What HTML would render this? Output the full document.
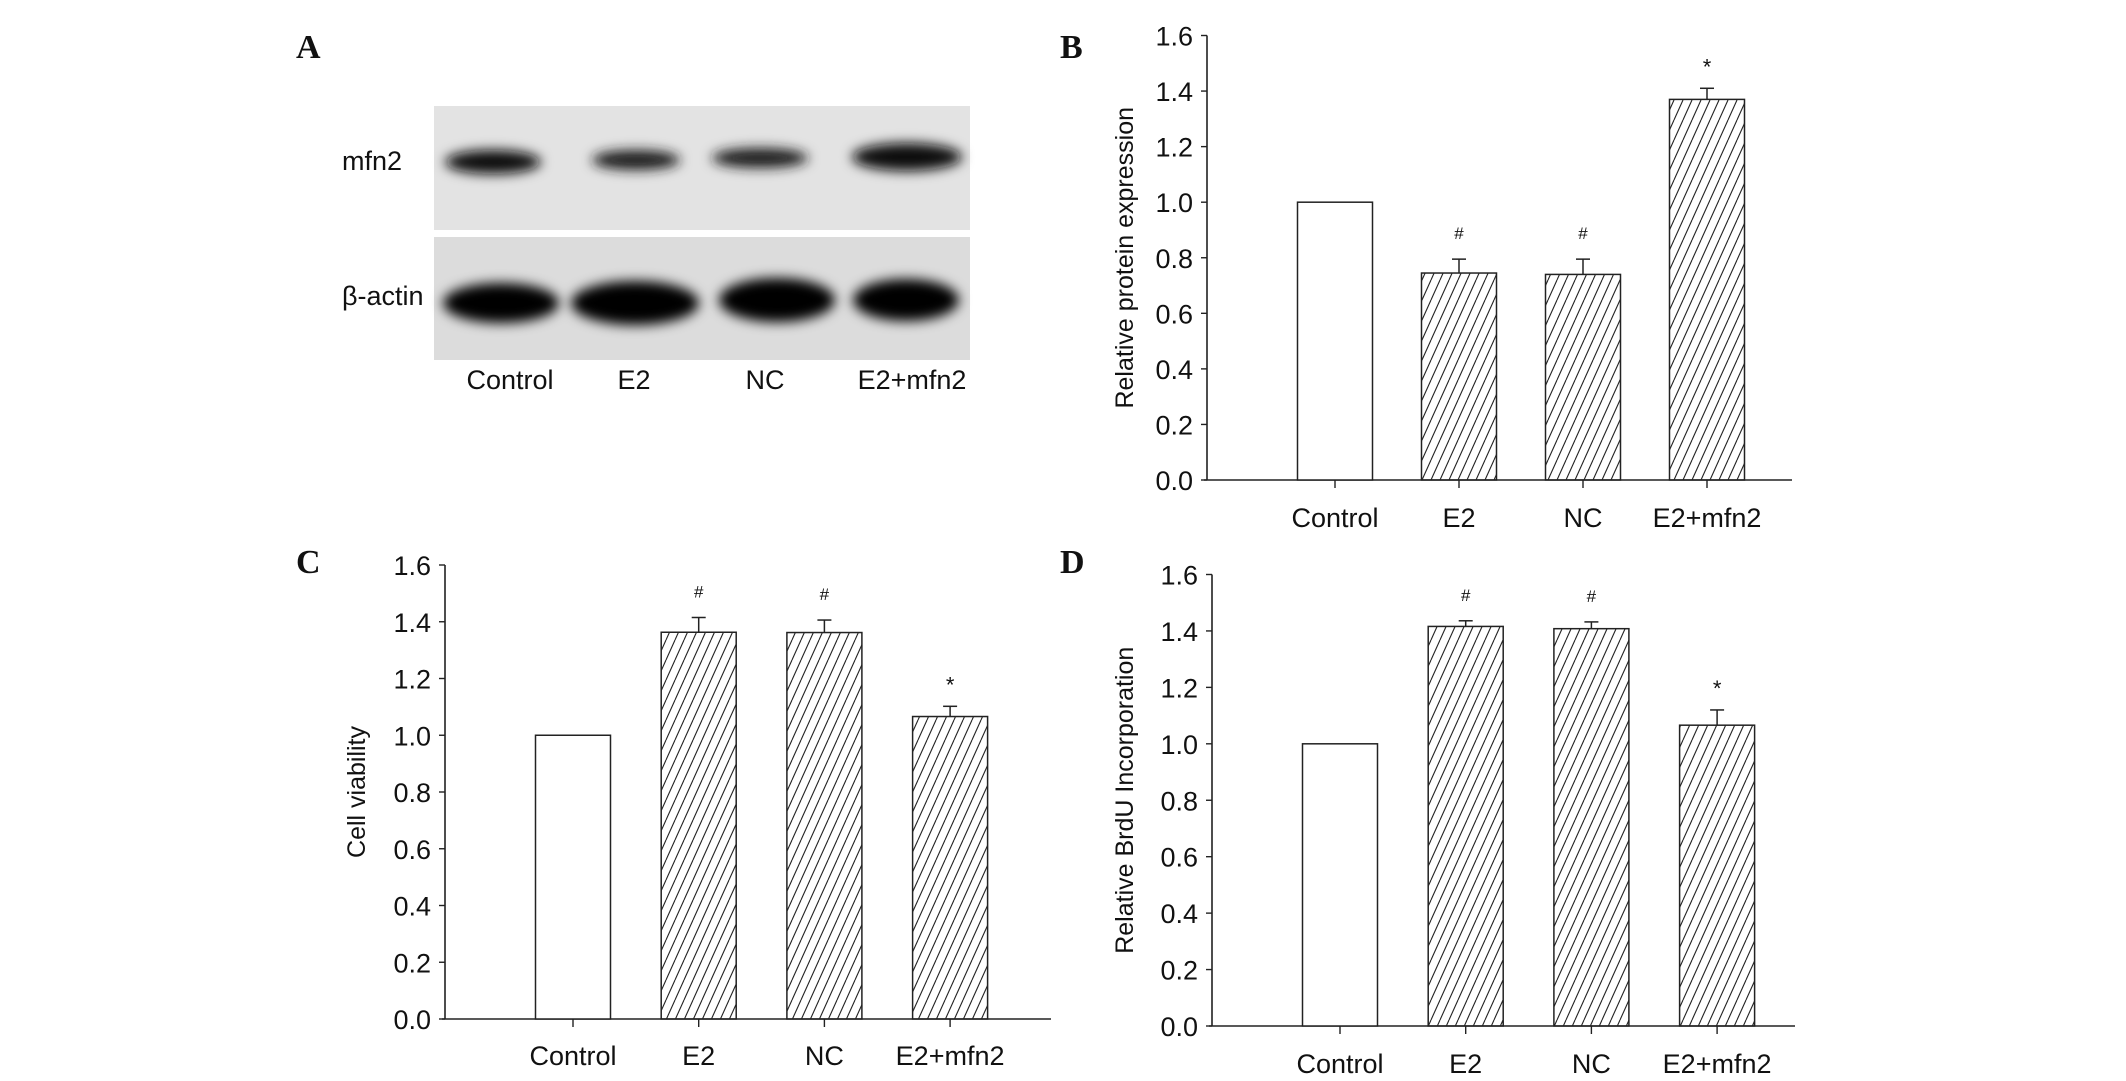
<!DOCTYPE html>
<html><head><meta charset="utf-8"><style>
html,body{margin:0;padding:0;background:#fff}
svg{display:block}
text{font-family:"Liberation Sans",Arial,sans-serif;fill:#111}
.pl{font-family:"Liberation Serif",serif;font-weight:bold;font-size:34px}
</style></head><body>
<svg id="fig" width="2126" height="1081" viewBox="0 0 2126 1081" xmlns="http://www.w3.org/2000/svg">
<defs>
<pattern id="hatch" patternUnits="userSpaceOnUse" width="9" height="20">
<line x1="0" y1="20" x2="9" y2="0" stroke="#222" stroke-width="1.1"/>
<line x1="-9" y1="20" x2="0" y2="0" stroke="#222" stroke-width="1.1"/>
<line x1="9" y1="20" x2="18" y2="0" stroke="#222" stroke-width="1.1"/>
</pattern>
<filter id="blur" x="-30%" y="-80%" width="160%" height="260%"><feGaussianBlur stdDeviation="6"/></filter>
</defs>

<text class="pl" x="296" y="58">A</text>
<g>
<rect x="434" y="106" width="536" height="124" fill="#e3e3e3"/>
<rect x="434" y="237" width="536" height="123" fill="#dcdcdc"/>
<g filter="url(#blur)">
<ellipse cx="493" cy="162" rx="48" ry="12" fill="#111"/>
<ellipse cx="636" cy="160" rx="44" ry="10" fill="#1a1a1a"/>
<ellipse cx="760" cy="158" rx="48" ry="10" fill="#1a1a1a"/>
<ellipse cx="907" cy="157" rx="55" ry="14" fill="#0a0a0a"/>
<ellipse cx="501" cy="303" rx="58" ry="20" fill="#050505"/>
<ellipse cx="635" cy="303" rx="64" ry="22" fill="#050505"/>
<ellipse cx="777" cy="300" rx="58" ry="22" fill="#050505"/>
<ellipse cx="906" cy="300" rx="53" ry="21" fill="#050505"/>
</g>
</g>
<text x="342" y="170" font-size="27">mfn2</text>
<text x="342" y="305" font-size="27">β-actin</text>
<text x="510" y="389" font-size="27" text-anchor="middle">Control</text>
<text x="634" y="389" font-size="27" text-anchor="middle">E2</text>
<text x="765" y="389" font-size="27" text-anchor="middle">NC</text>
<text x="912" y="389" font-size="27" text-anchor="middle">E2+mfn2</text>

<text class="pl" x="1060" y="58">B</text>
<text class="pl" x="296" y="573">C</text>
<text class="pl" x="1060" y="573">D</text>
<g id="charts"></g>
</svg>
<script>
const categories = ["Control", "E2", "NC", "E2+mfn2"];
const yTicks = [0, 0.2, 0.4, 0.6, 0.8, 1.0, 1.2, 1.4, 1.6];
const valuesB = [1.0, 0.745, 0.74, 1.37];
const errorsB = [0, 0.05, 0.055, 0.04];
const marksB = ["", "#", "#", "*"];
const valuesC = [1.0, 1.363, 1.362, 1.066];
const errorsC = [0, 0.052, 0.044, 0.036];
const marksC = ["", "#", "#", "*"];
const valuesD = [1.0, 1.416, 1.408, 1.066];
const errorsD = [0, 0.02, 0.024, 0.054];
const marksD = ["", "#", "#", "*"];

const NS = "http://www.w3.org/2000/svg";
const root = document.getElementById("charts");
function mk(tag, attrs, parent) {
  const e = document.createElementNS(NS, tag);
  for (const k in attrs) e.setAttribute(k, attrs[k]);
  (parent || root).appendChild(e);
  return e;
}
function chart(id, cfg, values, errors, marks, ytitle) {
  const g = mk("g", {});
  
  
  const y = v => cfg.y0 - (cfg.y0 - cfg.y1) * v / 1.6;
  const x = i => cfg.c0 + i * cfg.step;
  const ax = mk("line", {x1: cfg.ax, y1: y(1.6), x2: cfg.ax, y2: y(0), stroke: "#222", "stroke-width": 1.6}, g);
  
  
  const xa = mk("line", {x1: cfg.ax - 3, y1: y(0), x2: cfg.xe, y2: y(0), stroke: "#222", "stroke-width": 1.6}, g);
  
  
  yTicks.forEach(t => {
    const tk = mk("line", {x1: cfg.ax - 6, y1: y(t), x2: cfg.ax, y2: y(t), stroke: "#222", "stroke-width": 1.4}, g);
    
    
    const tl = mk("text", {x: cfg.ax - 14, y: y(t) + 10, "font-size": 27, "text-anchor": "end"}, g);
    tl.textContent = t.toFixed(1);
    
    
  });
  const yt = mk("text", {x: 0, y: 0, "font-size": 25, "text-anchor": "middle", transform: `translate(${cfg.yl},${(y(0) + y(1.6)) / 2}) rotate(-90)`}, g);
  yt.textContent = ytitle;
  
  
  categories.forEach((c, i) => {
    const cx = x(i);
    const bw = cfg.bw;
    const b = mk("rect", {x: cx - bw / 2, y: y(values[i]), width: bw, height: y(0) - y(values[i]), fill: i === 0 ? "#fff" : "url(#hatch)", stroke: "#222", "stroke-width": 1.5}, g);
    
    
    if (errors[i] > 0) {
      const e1 = mk("line", {x1: cx, y1: y(values[i]), x2: cx, y2: y(values[i] + errors[i]), stroke: "#222", "stroke-width": 1.5}, g);
      
      
      const e2 = mk("line", {x1: cx - 7, y1: y(values[i] + errors[i]), x2: cx + 7, y2: y(values[i] + errors[i]), stroke: "#222", "stroke-width": 1.5}, g);
      
      
    }
    if (marks[i]) {
      const m = mk("text", {x: cx, y: y(values[i] + errors[i]) - (marks[i] === "*" ? 14 : 20), "font-size": marks[i] === "*" ? 22 : 17, "text-anchor": "middle"}, g);
      m.textContent = marks[i];
      
      
    }
    const tk = mk("line", {x1: cx, y1: y(0), x2: cx, y2: y(0) + 8, stroke: "#222", "stroke-width": 1.4}, g);
    
    
    const tl = mk("text", {x: cx, y: cfg.cl, "font-size": 27, "text-anchor": "middle"}, g);
    tl.textContent = c;
    
    
  });
}
chart("chart-b", {ax: 1207, xe: 1792, y0: 480, y1: 35.5, c0: 1335, step: 124, bw: 75, yl: 1133, cl: 527}, valuesB, errorsB, marksB, "Relative protein expression");
chart("chart-c", {ax: 445, xe: 1051, y0: 1019, y1: 565, c0: 573, step: 125.7, bw: 75, yl: 365, cl: 1065}, valuesC, errorsC, marksC, "Cell viability");
chart("chart-d", {ax: 1212, xe: 1795, y0: 1026, y1: 574.5, c0: 1340, step: 125.7, bw: 75, yl: 1133, cl: 1073}, valuesD, errorsD, marksD, "Relative BrdU Incorporation");
</script>
</body></html>
